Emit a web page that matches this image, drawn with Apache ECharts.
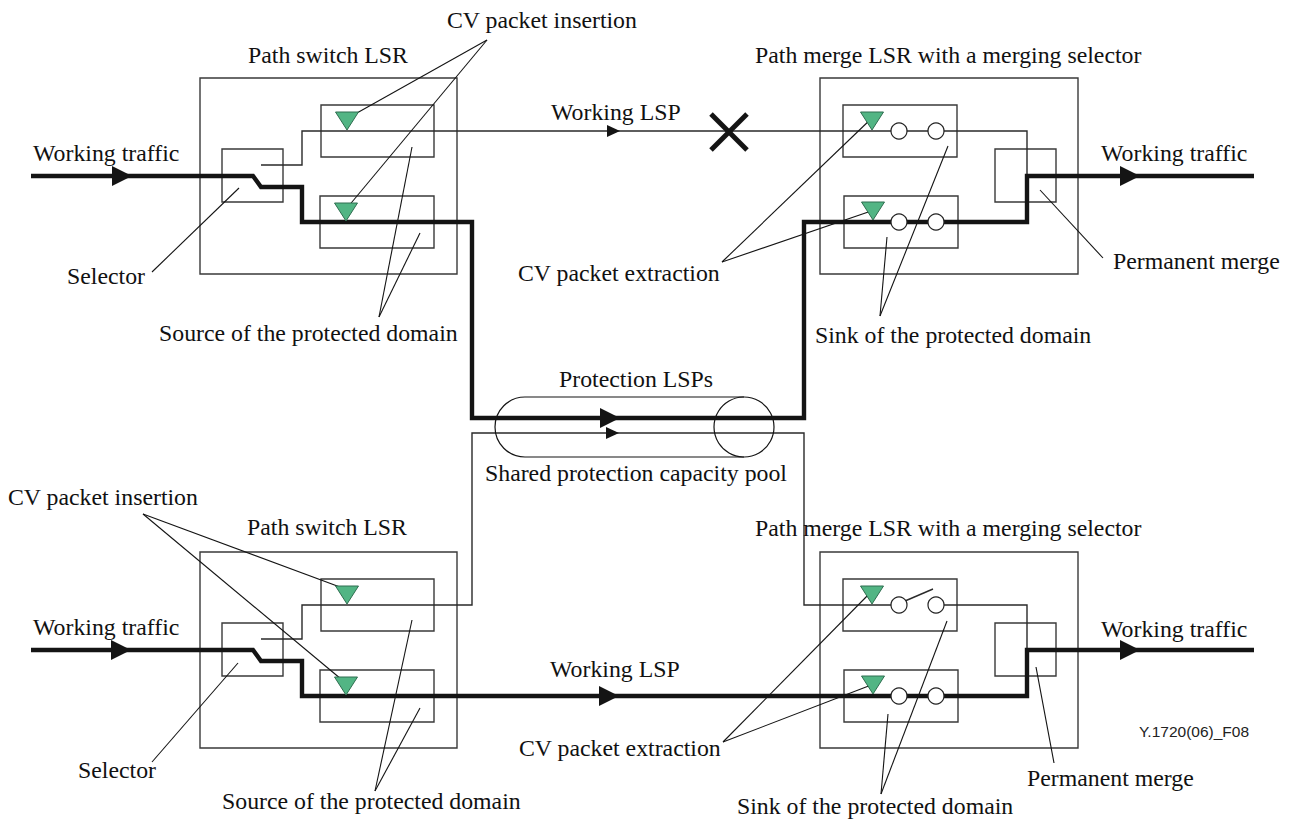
<!DOCTYPE html>
<html>
<head>
<meta charset="utf-8">
<script src="https://cdn.jsdelivr.net/npm/echarts@6/dist/echarts.min.js"></script>
<style>html,body{margin:0;padding:0;background:#fff}#c{width:1294px;height:819px}</style>
</head>
<body>
<div id="c"></div>
<script>
// ---- Diagram data (coordinates in the 1294 x 819 figure space) ----
const boxes = [
  [200, 78, 457, 274], [321, 105, 434, 157], [320, 196, 434, 248], [222, 149, 283, 202],
  [820, 78, 1078, 274], [843, 105, 957, 157], [844, 196, 958, 248], [995, 149, 1056, 202],
  [200, 552, 457, 748], [321, 579, 434, 631], [320, 670, 434, 722], [222, 623, 283, 676],
  [820, 552, 1078, 748], [843, 579, 957, 631], [844, 670, 958, 722], [995, 623, 1056, 676]
];
const thickPaths = [
  [[31,176],[253,176],[261,187],[302,187],[302,222],[472,222],[472,418],[804,418],[804,222],[1027,222],[1027,176],[1254,176]],
  [[31,650],[253,650],[261,661],[302,661],[302,696],[1027,696],[1027,650],[1254,650]]
];
const thinPaths = [
  [[261,165],[302,165],[302,131],[1027,131],[1027,176]],
  [[261,639],[302,639],[302,605],[472,605],[472,433],[804,433],[804,605],[899,605]],
  [[936,605],[1027,605],[1027,650]],
  [[905,601],[933,589]]
];
const leaders = [
  [[487,40],[348,118]], [[487,40],[347,208]],
  [[239,188],[152,272]],
  [[412,147],[379,317]], [[420,233],[379,317]],
  [[722,262],[873,117]], [[722,262],[880,208]],
  [[948,146],[880,316]], [[887,237],[880,316]],
  [[1040,190],[1103,258]],
  [[143,514],[348,590]], [[143,514],[347,684]],
  [[238,663],[152,762]],
  [[412,620],[375,791]], [[420,708],[375,791]],
  [[723,742],[872,591]], [[723,742],[879,682]],
  [[947,621],[881,794]], [[888,714],[881,794]],
  [[1036,667],[1054,763]]
];
const greenTriangles = [[347,121],[346,212],[872,121],[873,211],[347,595],[346,686],[872,595],[873,685]];
const switchCircles = [[899,131],[936,131],[899,222],[936,222],[899,605],[936,605],[899,696],[936,696]];
const bigArrowTips = [[132,176],[1140,176],[620,418],[131,650],[619,696],[1140,650]];
const smallArrowTips = [[620,131],[619,433]];
const failureMarks = [[729,132]];
const poolLeftArc = [[525,427]];
const poolRightCircle = [[744,427]];
const poolEdges = [[[525,397],[744,397]], [[525,457],[744,457]]];
const labelTexts = [
  'CV packet insertion', 'Path switch LSR', 'Path merge LSR with a merging selector', 'Working LSP',
  'Working traffic', 'Working traffic', 'Selector', 'CV packet extraction', 'Permanent merge',
  'Source of the protected domain', 'Sink of the protected domain', 'Protection LSPs',
  'Shared protection capacity pool',
  'CV packet insertion', 'Path switch LSR', 'Path merge LSR with a merging selector',
  'Working traffic', 'Working traffic', 'Working LSP', 'CV packet extraction', 'Selector',
  'Permanent merge', 'Source of the protected domain', 'Sink of the protected domain'
];
const labelAnchors = [
  [447,20], [248,55], [755,55], [551,112],
  [33,153], [1101,153], [67,276], [518,273], [1113,261],
  [159,333], [815,335], [559,379],
  [485,473],
  [8,497], [247,527], [755,528],
  [33,627], [1101,629], [550,669], [519,748], [78,770],
  [1027,778], [222,801], [737,806]
];
const figureIdText = ['Y.1720(06)_F08'];
const figureIdAnchor = [[1139,731]];

// ---- Rendering ----
const INK = '#141414', FRAME = '#3a3a3a';
const SERIF = '"Liberation Serif", "DejaVu Serif", serif';
function idx(arr){ return arr.map((_, i) => [i, 0]); }
function custom(name, arr, z, fn){
  return { type:'custom', name, coordinateSystem:'cartesian2d', data: idx(arr), z, clip:false,
    silent:true, animation:false, renderItem:(params, api) => fn(arr[params.dataIndex], api) };
}
const series = [
  custom('boxes', boxes, 2, (b, api) => {
    const p1 = api.coord([b[0], b[1]]), p2 = api.coord([b[2], b[3]]);
    return { type:'rect', shape:{ x:p1[0], y:p1[1], width:p2[0]-p1[0], height:p2[1]-p1[1] },
      style:{ fill:null, stroke:FRAME, lineWidth:1.4 } };
  }),
  custom('thin', thinPaths, 3, (p, api) => ({ type:'polyline', shape:{ points:p.map(q => api.coord(q)) },
      style:{ fill:null, stroke:'#2a2a2a', lineWidth:1.4 } })),
  custom('leaders', leaders, 3, (p, api) => ({ type:'polyline', shape:{ points:p.map(q => api.coord(q)) },
      style:{ fill:null, stroke:INK, lineWidth:1.1 } })),
  custom('poolEdges', poolEdges, 3, (p, api) => ({ type:'polyline', shape:{ points:p.map(q => api.coord(q)) },
      style:{ fill:null, stroke:INK, lineWidth:1.2 } })),
  custom('poolLeft', poolLeftArc, 3, (c, api) => {
    const o = api.coord(c), e = api.coord([c[0], c[1] + 30]);
    return { type:'arc', shape:{ cx:o[0], cy:o[1], r:e[1]-o[1], startAngle:Math.PI/2, endAngle:Math.PI*1.5, clockwise:true },
      style:{ fill:null, stroke:INK, lineWidth:1.2 } };
  }),
  custom('poolRight', poolRightCircle, 3, (c, api) => {
    const o = api.coord(c), e = api.coord([c[0], c[1] + 30]);
    return { type:'circle', shape:{ cx:o[0], cy:o[1], r:e[1]-o[1] }, style:{ fill:null, stroke:INK, lineWidth:1.2 } };
  }),
  custom('thick', thickPaths, 4, (p, api) => ({ type:'polyline', shape:{ points:p.map(q => api.coord(q)) },
      style:{ fill:null, stroke:INK, lineWidth:4.4, lineJoin:'miter', lineCap:'butt' } })),
  custom('bigArrows', bigArrowTips, 5, (t, api) => {
    const o = api.coord(t);
    return { type:'polygon', shape:{ points:[[o[0], o[1]], [o[0]-20, o[1]-10], [o[0]-20, o[1]+10]] }, style:{ fill:INK } };
  }),
  custom('smallArrows', smallArrowTips, 5, (t, api) => {
    const o = api.coord(t);
    return { type:'polygon', shape:{ points:[[o[0], o[1]], [o[0]-13, o[1]-6], [o[0]-13, o[1]+6]] }, style:{ fill:INK } };
  }),
  custom('circles', switchCircles, 6, (c, api) => {
    const o = api.coord(c);
    return { type:'circle', shape:{ cx:o[0], cy:o[1], r:8 }, style:{ fill:'#fff', stroke:'#222', lineWidth:1.2 } };
  }),
  custom('triangles', greenTriangles, 6, (c, api) => {
    const o = api.coord(c);
    return { type:'polygon', shape:{ points:[[o[0]-11.5, o[1]-9], [o[0]+11.5, o[1]-9], [o[0], o[1]+9]] },
      style:{ fill:'#52b584', stroke:'#2f6e50', lineWidth:1 } };
  }),
  custom('failure', failureMarks, 6, (c, api) => {
    const o = api.coord(c);
    return { type:'group', children:[
      { type:'line', shape:{ x1:o[0]-18, y1:o[1]-18, x2:o[0]+18, y2:o[1]+18 }, style:{ stroke:INK, lineWidth:5 } },
      { type:'line', shape:{ x1:o[0]+18, y1:o[1]-18, x2:o[0]-18, y2:o[1]+18 }, style:{ stroke:INK, lineWidth:5 } }
    ] };
  }),
  { type:'custom', name:'labels', coordinateSystem:'cartesian2d', data: idx(labelTexts), z:8, clip:false, silent:true,
    animation:false,
    renderItem:(params, api) => {
      const o = api.coord(labelAnchors[params.dataIndex]);
      return { type:'text', x:o[0], y:o[1], style:{ text:labelTexts[params.dataIndex], fill:'#111',
        fontFamily:SERIF, fontSize:23.8, align:'left', verticalAlign:'middle' } };
    } },
  { type:'custom', name:'figureId', coordinateSystem:'cartesian2d', data: idx(figureIdText), z:8, clip:false, silent:true,
    animation:false,
    renderItem:(params, api) => {
      const o = api.coord(figureIdAnchor[params.dataIndex]);
      return { type:'text', x:o[0], y:o[1], style:{ text:figureIdText[params.dataIndex], fill:'#222',
        fontFamily:'"Liberation Sans", Arial, sans-serif', fontSize:15.5, align:'left', verticalAlign:'middle' } };
    } }
];

const chart = echarts.init(document.getElementById('c'), null, { renderer:'svg', width:1294, height:819 });
chart.setOption({
  backgroundColor:'#ffffff',
  animation:false,
  grid:{ left:0, right:0, top:0, bottom:0 },
  xAxis:{ type:'value', min:0, max:1294, show:false },
  yAxis:{ type:'value', min:0, max:819, inverse:true, show:false },
  series
});
</script>
</body>
</html>
